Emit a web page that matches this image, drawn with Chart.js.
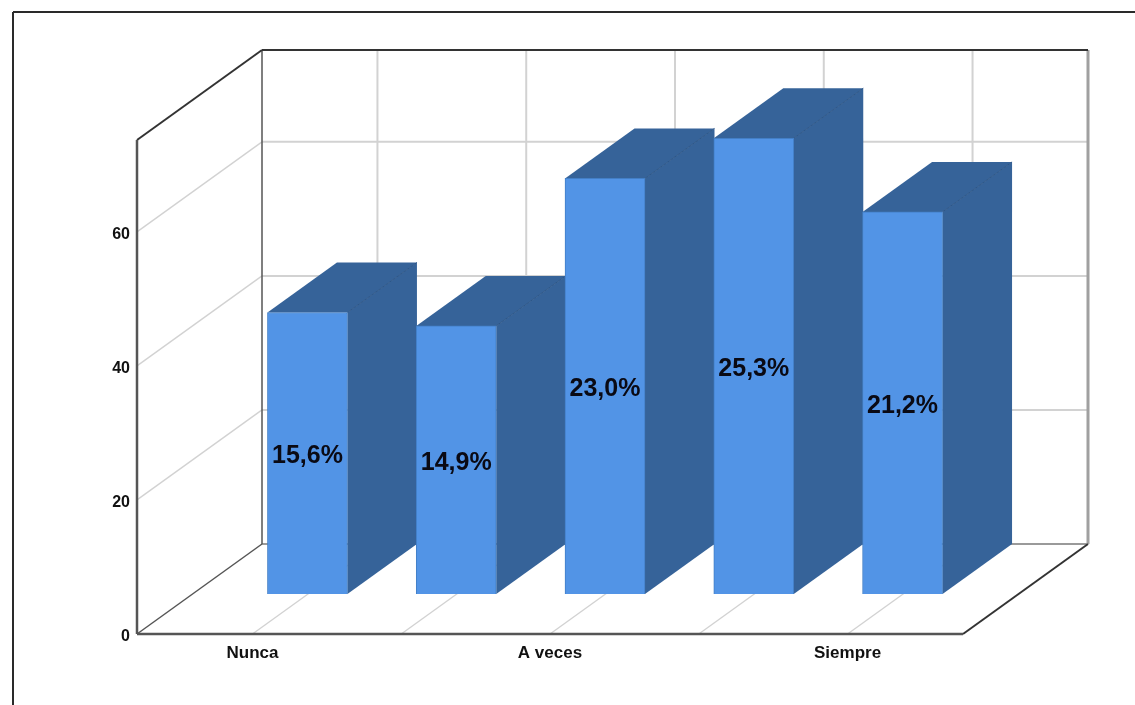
<!DOCTYPE html>
<html lang="es">
<head>
    <meta charset="UTF-8">
    <title>Frecuencia</title>
    <script src="https://cdn.jsdelivr.net/npm/chart.js"></script>
    <style>
        html, body { margin: 0; padding: 0; background: #fff; }
        canvas { display: block; }
    </style>
</head>
<body>
    <canvas id="barChart" width="1135" height="705"></canvas>

    <script>
        const xLabels = ['Nunca', '', 'A veces', '', 'Siempre'];
        const counts = [42, 40, 62, 68, 57];
        const yTop = 73.7;

        const total = counts.reduce((a, b) => a + b, 0);
        const percentLabels = counts.map(c => (c / total * 100).toFixed(1).replace('.', ',') + '%');

        // depth of the box, and where the bars sit inside it
        const boxDepth = { x: 125, y: -90 };
        const barShift = { x: 55, y: -40 };
        const barDepth = { x: 69.5, y: -50 };

        const frontColor = '#5294e6';
        const sideColor = '#366399';
        const sideEdge = '#2e5788';
        const gridColor = '#d2d2d2';

        function line(ctx, x1, y1, x2, y2, color, width) {
            ctx.strokeStyle = color;
            ctx.lineWidth = width;
            ctx.beginPath();
            ctx.moveTo(x1, y1);
            ctx.lineTo(x2, y2);
            ctx.stroke();
        }

        function poly(ctx, points, color) {
            ctx.fillStyle = color;
            ctx.beginPath();
            points.forEach((p, i) => i ? ctx.lineTo(p[0], p[1]) : ctx.moveTo(p[0], p[1]));
            ctx.closePath();
            ctx.fill();
        }

        const box3d = {
            id: 'box3d',
            beforeDraw(chart) {
                // outer frame, top and left only
                const ctx = chart.ctx;
                line(ctx, 13, 12, 1135, 12, '#2a2a2a', 2);
                line(ctx, 13, 12, 13, 705, '#2a2a2a', 2);
            },
            beforeDatasetsDraw(chart) {
                const ctx = chart.ctx;
                const { x: xs, y: ys } = chart.scales;
                const { left, right, top, bottom } = chart.chartArea;
                const dx = boxDepth.x, dy = boxDepth.y;

                ctx.save();

                // grid on the side wall and back wall
                ys.ticks.forEach(t => {
                    if (t.value === 0) return;
                    const y = ys.getPixelForValue(t.value);
                    line(ctx, left, y, left + dx, y + dy, gridColor, 1.4);
                    line(ctx, left + dx, y + dy, right + dx, y + dy, gridColor, 2);
                });
                xs.ticks.forEach(t => {
                    const x = xs.getPixelForValue(t.value);
                    line(ctx, x, bottom, x + dx, bottom + dy, gridColor, 1.4);
                    line(ctx, x + dx, bottom + dy, x + dx, top + dy, gridColor, 2);
                });

                // box edges
                line(ctx, left + dx, bottom + dy, right + dx, bottom + dy, '#9a9a9a', 2);
                line(ctx, right + dx, bottom + dy, right + dx, top + dy, '#a0a0a0', 3);
                line(ctx, left + dx, bottom + dy, left + dx, top + dy, '#555', 1.5);
                line(ctx, left + dx, top + dy, right + dx, top + dy, '#333', 2);
                line(ctx, left, top, left + dx, top + dy, '#333', 2);
                line(ctx, left, bottom, left + dx, bottom + dy, '#555', 1.5);
                line(ctx, right, bottom, right + dx, bottom + dy, '#333', 2);
                line(ctx, left, top, left, bottom, '#555', 2.5);
                line(ctx, left, bottom, right, bottom, '#555', 2.5);

                // top and side faces of each bar, left to right
                chart.getDatasetMeta(0).data.forEach(bar => {
                    const half = bar.width / 2;
                    const l = bar.x - half + barShift.x;
                    const r = bar.x + half + barShift.x;
                    const t = bar.y + barShift.y;
                    const b = bar.base + barShift.y;
                    const ox = barDepth.x, oy = barDepth.y;
                    poly(ctx, [[r, t], [r + ox, t + oy], [r + ox, b + oy], [r, b]], sideColor);
                    poly(ctx, [[l, t], [l + ox, t + oy], [r + ox, t + oy], [r, t]], sideColor);
                    line(ctx, r, t, r + ox, t + oy, sideEdge, 1);
                });

                ctx.restore();

                // front faces are the library's own bars, pushed back into the box
                ctx.save();
                ctx.translate(barShift.x, barShift.y);
            },
            afterDatasetsDraw(chart) {
                const ctx = chart.ctx;
                ctx.restore();

                ctx.save();
                ctx.font = 'bold 25px "Liberation Sans", Arial, sans-serif';
                ctx.fillStyle = '#0a0a14';
                ctx.textAlign = 'center';
                ctx.textBaseline = 'middle';
                chart.getDatasetMeta(0).data.forEach((bar, i) => {
                    ctx.fillText(percentLabels[i], bar.x + barShift.x, (bar.y + bar.base) / 2 + barShift.y + 3);
                });
                ctx.restore();
            }
        };

        new Chart(document.getElementById('barChart').getContext('2d'), {
            type: 'bar',
            data: {
                datasets: [{
                    data: counts.map((c, i) => ({ x: i, y: c })),
                    backgroundColor: frontColor,
                    borderColor: '#437fc6',
                    borderWidth: 1,
                    barThickness: 80,
                    clip: false
                }]
            },
            options: {
                responsive: false,
                animation: false,
                layout: { padding: { top: 140, right: 172, left: 0, bottom: 0 } },
                plugins: { legend: { display: false }, tooltip: { enabled: false } },
                scales: {
                    x: {
                        type: 'linear',
                        offset: false,
                        min: -0.776,
                        max: 4.776,
                        grid: { display: false, drawTicks: false },
                        border: { display: false },
                        afterBuildTicks(scale) {
                            scale.ticks = xLabels.map((_, i) => ({ value: i }));
                        },
                        afterFit(scale) { scale.height = 71; },
                        ticks: {
                            autoSkip: false,
                            maxRotation: 0,
                            padding: 9,
                            color: '#111',
                            font: { family: '"Liberation Sans", Arial, sans-serif', size: 17, weight: 'bold' },
                            callback: value => xLabels[value]
                        }
                    },
                    y: {
                        min: 0,
                        max: yTop,
                        grid: { display: false, drawTicks: false },
                        border: { display: false },
                        afterFit(scale) { scale.width = 137; },
                        ticks: {
                            stepSize: 20,
                            includeBounds: false,
                            padding: 7,
                            labelOffset: 3,
                            color: '#111',
                            font: { family: '"Liberation Sans", Arial, sans-serif', size: 16, weight: 'bold' }
                        }
                    }
                }
            },
            plugins: [box3d]
        });
    </script>
</body>
</html>
